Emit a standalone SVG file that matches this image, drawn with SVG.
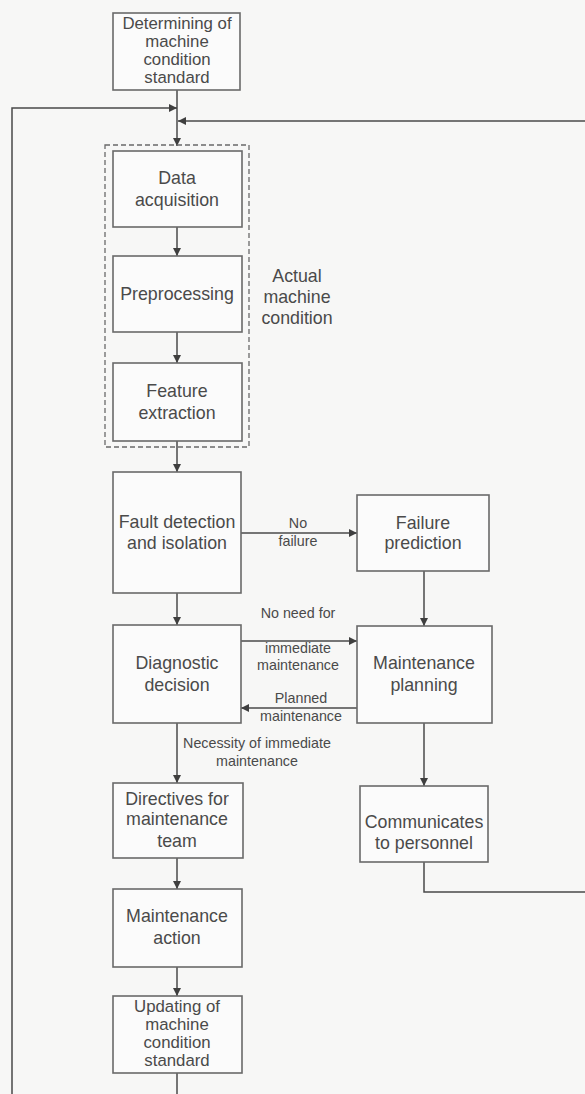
<svg xmlns="http://www.w3.org/2000/svg" width="585" height="1094" viewBox="0 0 585 1094">
<style>
.box{fill:#fbfbfb;stroke:#6a6a6a;stroke-width:1.6}
.dash{fill:none;stroke:#6a6a6a;stroke-width:1.3;stroke-dasharray:5 3}
.t{font-family:"Liberation Sans",Arial,sans-serif;font-size:17.8px;fill:#4a4a4a;text-anchor:middle}
.s{font-size:16.8px}
.e{font-family:"Liberation Sans",Arial,sans-serif;font-size:14.3px;fill:#4a4a4a;text-anchor:middle}
.c{fill:none;stroke:#4a4a4a;stroke-width:1.5}
</style>
<defs>
<marker id="ah" viewBox="0 0 10 10" refX="10" refY="5" markerWidth="9" markerHeight="8" markerUnits="userSpaceOnUse" orient="auto">
<path d="M0,0 L10,5 L0,10 z" fill="#3f3f3f"/>
</marker>
</defs>
<rect width="585" height="1094" fill="#f7f7f6"/>
<g id="connectors">
<path class="c" d="M177,90 V146" marker-end="url(#ah)"/>
<path class="c" d="M12,1094 V108 H177" marker-end="url(#ah)"/>
<path class="c" d="M585,121 H178" marker-end="url(#ah)"/>
<path class="c" d="M177,227 V256" marker-end="url(#ah)"/>
<path class="c" d="M177,332 V363" marker-end="url(#ah)"/>
<path class="c" d="M177,441 V472" marker-end="url(#ah)"/>
<path class="c" d="M241,533 H357" marker-end="url(#ah)"/>
<path class="c" d="M177,593 V625" marker-end="url(#ah)"/>
<path class="c" d="M424,571 V626" marker-end="url(#ah)"/>
<path class="c" d="M241,641 H357" marker-end="url(#ah)"/>
<path class="c" d="M357,708 H241" marker-end="url(#ah)"/>
<path class="c" d="M177,723 V783" marker-end="url(#ah)"/>
<path class="c" d="M424,723 V786" marker-end="url(#ah)"/>
<path class="c" d="M424,862 V892 H585"/>
<path class="c" d="M177,858 V889" marker-end="url(#ah)"/>
<path class="c" d="M177,967 V996" marker-end="url(#ah)"/>
<path class="c" d="M177,1073 V1094"/>
<text class="e" x="298" y="528">No</text>
<text class="e" x="298" y="546">failure</text>
<text class="e" x="298" y="618">No need for</text>
<text class="e" x="298" y="653">immediate</text>
<text class="e" x="298" y="670">maintenance</text>
<text class="e" x="301" y="703">Planned</text>
<text class="e" x="301" y="721">maintenance</text>
<text class="e" x="257" y="748">Necessity of immediate</text>
<text class="e" x="257" y="766">maintenance</text>
</g>
<g id="actual-machine-condition">
<rect class="dash" x="105" y="145" width="144" height="302"/>
<text class="t" x="297" y="282">Actual</text>
<text class="t" x="297" y="303">machine</text>
<text class="t" x="297" y="324">condition</text>
</g>
<g id="determining">
<rect class="box" x="113" y="13" width="127" height="77"/>
<text class="t s" x="177" y="29">Determining of</text>
<text class="t s" x="177" y="47">machine</text>
<text class="t s" x="177" y="65">condition</text>
<text class="t s" x="177" y="83">standard</text>
</g>
<g id="data-acquisition">
<rect class="box" x="113" y="151" width="129" height="76"/>
<text class="t" x="177" y="184">Data</text>
<text class="t" x="177" y="206">acquisition</text>
</g>
<g id="preprocessing">
<rect class="box" x="113" y="256" width="129" height="76"/>
<text class="t" x="177" y="300">Preprocessing</text>
</g>
<g id="feature-extraction">
<rect class="box" x="113" y="363" width="129" height="78"/>
<text class="t" x="177" y="397">Feature</text>
<text class="t" x="177" y="419">extraction</text>
</g>
<g id="fault-detection">
<rect class="box" x="113" y="472" width="128" height="121"/>
<text class="t" x="177" y="528">Fault detection</text>
<text class="t" x="177" y="549">and isolation</text>
</g>
<g id="failure-prediction">
<rect class="box" x="357" y="495" width="132" height="76"/>
<text class="t" x="423" y="529">Failure</text>
<text class="t" x="423" y="549">prediction</text>
</g>
<g id="diagnostic-decision">
<rect class="box" x="113" y="625" width="128" height="98"/>
<text class="t" x="177" y="669">Diagnostic</text>
<text class="t" x="177" y="691">decision</text>
</g>
<g id="maintenance-planning">
<rect class="box" x="357" y="626" width="135" height="97"/>
<text class="t" x="424" y="669">Maintenance</text>
<text class="t" x="424" y="691">planning</text>
</g>
<g id="directives">
<rect class="box" x="113" y="783" width="130" height="75"/>
<text class="t" x="177" y="805">Directives for</text>
<text class="t" x="177" y="825">maintenance</text>
<text class="t" x="177" y="847">team</text>
</g>
<g id="communicates">
<rect class="box" x="360" y="786" width="128" height="76"/>
<text class="t" x="424" y="828">Communicates</text>
<text class="t" x="424" y="849">to personnel</text>
</g>
<g id="maintenance-action">
<rect class="box" x="113" y="889" width="129" height="78"/>
<text class="t" x="177" y="922">Maintenance</text>
<text class="t" x="177" y="944">action</text>
</g>
<g id="updating">
<rect class="box" x="113" y="996" width="129" height="77"/>
<text class="t s" x="177" y="1012">Updating of</text>
<text class="t s" x="177" y="1030">machine</text>
<text class="t s" x="177" y="1048">condition</text>
<text class="t s" x="177" y="1066">standard</text>
</g>
</svg>
